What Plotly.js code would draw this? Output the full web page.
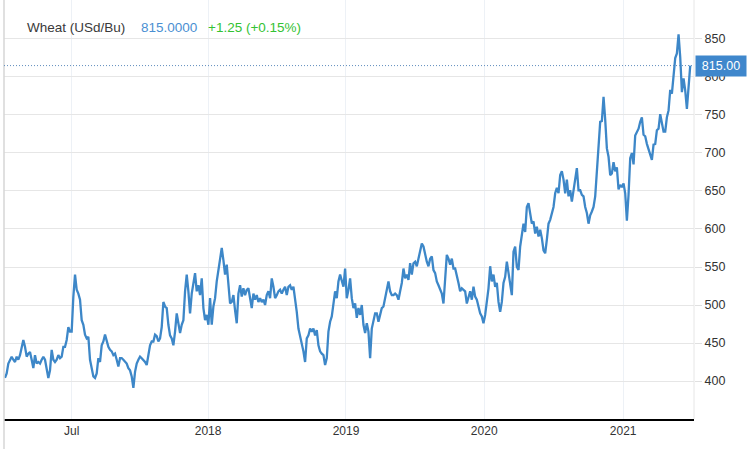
<!DOCTYPE html>
<html>
<head>
<meta charset="utf-8">
<script src="https://cdn.plot.ly/plotly-3.0.1.min.js"></script>
<style>
  html, body { margin: 0; padding: 0; background: #fff; }
  #chart { width: 747px; height: 449px; }
</style>
</head>
<body>
<div id="chart"></div>
<script>
const firstSample = '2017-01-12T15:00:00Z';
const sampleStepHours = 105.66;

const wheat2017 = [
  404, 410, 423, 428, 432, 428, 425, 432, 428, 434,
  445, 454, 445, 432, 436, 438, 428, 417, 434, 423,
  425, 423, 428, 432, 428, 414, 404, 414, 441, 428,
  425, 428, 434, 430, 432, 445, 445, 454, 471, 465,
  465, 511, 540, 520, 515, 507, 480, 474, 461, 456,
  458, 428, 414, 406, 404, 410, 430, 425, 447, 452,
  461, 452, 445, 441, 439, 434, 436, 428, 419, 430,
  430, 428, 425, 423, 417, 414, 406, 391, 412, 423,
  428, 432, 430, 428, 425, 421, 432, 447, 452, 452,
  461, 459, 452, 456, 471, 504, 498, 496, 474
];
const wheat2018 = [
  460, 456, 447, 465, 489, 476, 463, 474, 480, 518,
  540, 518, 489, 515, 531, 542, 518, 526, 513, 535,
  496, 480, 487, 474, 509, 474, 498, 509, 531, 548,
  561, 575, 559, 540, 553, 520, 502, 504, 513, 493,
  476, 515, 526, 511, 522, 513, 520, 522, 511, 496,
  515, 507, 513, 504, 509, 504, 507, 500, 513, 518,
  509, 535, 524, 509, 513, 518, 520, 515, 520, 524,
  513, 524, 526, 520, 524, 509, 491, 469, 460, 452,
  439, 425, 456, 460, 469, 465, 469, 460, 467, 447,
  439, 436, 434, 421, 430, 465, 478, 485, 504, 518,
  509, 531
];
const wheat2019 = [
  540, 533, 524, 548, 509, 520, 535, 509, 496, 502,
  483, 496, 487, 500, 474, 463, 476, 465, 430, 469,
  480, 489, 489, 478, 487, 496, 498, 509, 518, 531,
  518, 513, 513, 515, 513, 507, 518, 529, 548, 535,
  540, 533, 555, 540, 555, 557, 551, 561, 572, 581,
  577, 566, 557, 551, 561, 564, 546, 542, 531, 526,
  520, 515, 502, 535, 566, 561, 553, 561, 548, 548,
  540, 529, 518, 522, 520, 518, 502, 511, 518, 507,
  524, 511, 507, 498, 489, 485, 476, 487, 502, 522,
  551, 531, 540, 524, 529, 504, 491, 504, 529, 537,
  557, 542, 531, 513, 570
];
const wheat2020 = [
  577, 550, 546, 577, 594, 607, 596, 629, 634, 621,
  607, 610, 594, 603, 590, 599, 588, 572, 568, 586,
  607, 612, 623, 629, 647, 654, 647, 671, 676, 665,
  647, 665, 643, 651, 636, 651, 669, 680, 651, 651,
  645, 643, 629, 621, 607, 618, 623, 629, 643, 680,
  720, 741, 742, 774, 744, 706, 695, 671, 673, 688,
  676, 681, 652, 658, 655, 660, 647, 611, 645, 693,
  700, 685, 723, 728, 732, 741, 747, 724, 722, 712,
  704, 697, 691, 711, 712, 730, 732, 751, 740, 728,
  728, 747, 756, 783
];
const wheat2021 = [778, 800, 825, 831, 856, 826, 780, 798, 782, 758, 785, 815];

const wheatPrice = [].concat(wheat2017, wheat2018, wheat2019, wheat2020, wheat2021);

// Axis ticks as labelled in the reference
const xTickDates = ['2017-07-08', '2018-07-03', '2019-07-02', '2020-07-01', '2021-07-03'];
const xTickText = ['Jul', '2018', '2019', '2020', '2021'];
const yTickVals = [400, 450, 500, 550, 600, 650, 700, 750, 800, 850];

const lastValue = 815;
const titleName = 'Wheat (USd/Bu)';
const titlePrice = '815.0000';
const titleChange = '+1.25 (+0.15%)';

// sample dates
const t0 = Date.parse(firstSample);
const sampleDates = wheatPrice.map((_, i) =>
  new Date(t0 + i * sampleStepHours * 3600 * 1000).toISOString().slice(0, 16).replace('T', ' ')
);

const font = '"Liberation Sans", Arial, sans-serif';
const lineBlue = '#3d87c8';

const trace = {
  x: sampleDates,
  y: wheatPrice,
  type: 'scatter',
  mode: 'lines',
  line: { color: lineBlue, width: 2.3 },
  hoverinfo: 'skip'
};

const layout = {
  width: 747,
  height: 449,
  margin: { l: 4, r: 53, t: 0, b: 30, pad: 0 },
  paper_bgcolor: '#ffffff',
  plot_bgcolor: '#ffffff',
  showlegend: false,
  font: { family: font, size: 12, color: '#333333' },
  xaxis: {
    type: 'date',
    range: ['2017-01-10', '2022-01-06'],
    tickmode: 'array',
    tickvals: xTickDates,
    ticktext: xTickText,
    showgrid: true,
    gridcolor: '#edf1f6',
    gridwidth: 1,
    showline: true,
    linecolor: '#000000',
    linewidth: 1.5,
    ticks: '',
    zeroline: false,
    tickfont: { family: font, size: 12, color: '#333333' },
    fixedrange: true
  },
  yaxis: {
    side: 'right',
    range: [350, 901.3],
    tickmode: 'array',
    tickvals: yTickVals,
    showgrid: true,
    gridcolor: '#e6e6e6',
    gridwidth: 1,
    showline: false,
    zeroline: false,
    ticks: 'outside',
    ticklen: 7,
    tickcolor: '#e0e0e0',
    tickfont: { family: font, size: 12.5, color: '#333333' },
    fixedrange: true
  },
  shapes: [
    // left border
    { type: 'line', xref: 'paper', yref: 'paper', x0: 0, x1: 0, y0: -30 / 419, y1: 1,
      line: { color: '#d6d6d6', width: 1.5 } },
    // right border of plot
    { type: 'line', xref: 'paper', yref: 'paper', x0: 1, x1: 1, y0: 0, y1: 1,
      line: { color: '#e6e6e6', width: 1 } },
    // last value dotted line
    { type: 'line', xref: 'paper', yref: 'y', x0: 0, x1: 1, y0: lastValue, y1: lastValue,
      line: { color: '#5f8cbd', width: 1, dash: '1px,2px' } }
  ],
  annotations: [
    { xref: 'paper', yref: 'paper', x: 21 / 690, y: 1 - 27 / 419, xanchor: 'left', yanchor: 'middle',
      text: titleName, showarrow: false, font: { family: font, size: 13.5, color: '#3a3a3a' } },
    { xref: 'paper', yref: 'paper', x: 135 / 690, y: 1 - 27 / 419, xanchor: 'left', yanchor: 'middle',
      text: titlePrice, showarrow: false, font: { family: font, size: 13.5, color: '#4a8fd2' } },
    { xref: 'paper', yref: 'paper', x: 202 / 690, y: 1 - 27 / 419, xanchor: 'left', yanchor: 'middle',
      text: titleChange, showarrow: false, font: { family: font, size: 13.5, color: '#33c233' } },
    { xref: 'paper', yref: 'y', x: 1 + 1 / 690, y: lastValue, xanchor: 'left', yanchor: 'middle',
      text: lastValue.toFixed(2), showarrow: false, width: 48, height: 18, align: 'center',
      bgcolor: '#3f87cc', borderpad: 1, font: { family: font, size: 12.5, color: '#ffffff' } }
  ]
};

Plotly.newPlot('chart', [trace], layout, { displayModeBar: false, staticPlot: true });
</script>
</body>
</html>
